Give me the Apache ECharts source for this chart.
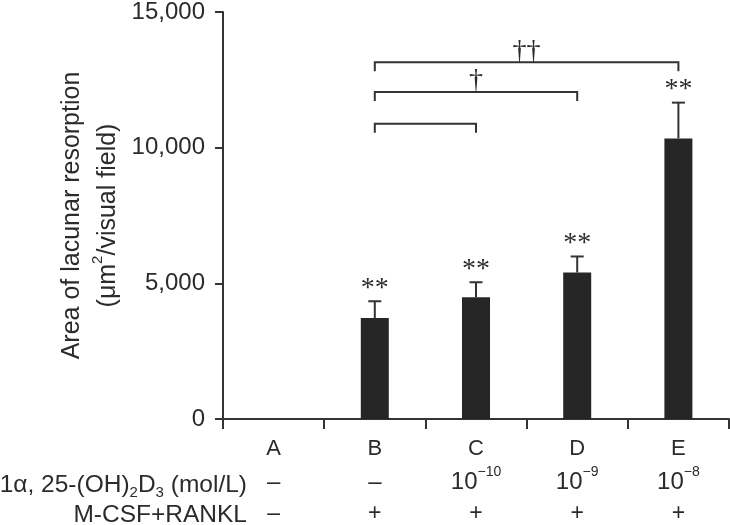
<!DOCTYPE html>
<html>
<head>
<meta charset="utf-8">
<script src="https://cdn.jsdelivr.net/npm/echarts@6/dist/echarts.min.js"></script>
<style>
html,body{margin:0;padding:0;background:#fff;}
#chart{width:730px;height:525px;}
</style>
</head>
<body>
<div id="chart"></div>
<script>
// ---- data ----
var categories = ['A', 'B', 'C', 'D', 'E'];
var doseBase = ['–', '–', '10', '10', '10'];
var doseExp = ['', '', '−10', '−9', '−8'];
var ranklRow = ['–', '+', '+', '+', '+'];
var meanArea = [0, 3720, 4490, 5400, 10340];
var errArea = [0, 620, 550, 590, 1320];
var starMarks = ['', '**', '**', '**', '**'];
var bracketFrom = ['B', 'B', 'B'];
var bracketTo = ['C', 'D', 'E'];
var bracketLevel = [10880, 12050, 13150];
var bracketMark = ['', '†', '††'];
var yMin = 0, yMax = 15000, yStep = 5000;

var TXT = '#2b2b2b', LINE = '#333333', BAR = '#262626';
var SANS = '"Liberation Sans", Arial, Helvetica, sans-serif';
var SERIF = '"Liberation Serif", "Times New Roman", serif';

var chart = echarts.init(document.getElementById('chart'), null, {renderer: 'canvas'});

var errData = categories.map(function (c, i) { return [i, meanArea[i], errArea[i]]; });
var brData = bracketFrom.map(function (f, i) {
  return [categories.indexOf(f), categories.indexOf(bracketTo[i]), bracketLevel[i]];
});

var option = {
  animation: false,
  backgroundColor: '#fff',
  grid: {left: 223, right: 1, top: 9.5, bottom: 105},
  xAxis: {
    type: 'category',
    data: categories,
    axisLine: {lineStyle: {color: LINE, width: 2}},
    axisTick: {show: true, interval: 0, length: 10, lineStyle: {color: LINE, width: 2}},
    axisLabel: {
      interval: 0,
      margin: 12.5,
      color: TXT,
      formatter: function (v, i) {
        var l2 = '{base|' + doseBase[i] + '}' + (doseExp[i] ? '{sup|' + doseExp[i] + '}' : '');
        return '{cat|' + v + '}\n' + l2 + '\n{pm|' + ranklRow[i] + '}';
      },
      rich: {
        cat: {fontFamily: SANS, fontSize: 22, lineHeight: 34, color: TXT, verticalAlign: 'middle'},
        base: {fontFamily: SANS, fontSize: 24, lineHeight: 34, color: TXT, verticalAlign: 'middle'},
        sup: {fontFamily: SANS, fontSize: 14, lineHeight: 14, color: TXT, verticalAlign: 'top'},
        pm: {fontFamily: SANS, fontSize: 23, lineHeight: 28, color: TXT, verticalAlign: 'middle'}
      }
    },
    splitLine: {show: false}
  },
  yAxis: {
    type: 'value',
    min: yMin, max: yMax, interval: yStep,
    name: '{a|Area of lacunar resorption}\n{a|(μm}{s|2}{a|/visual field)}',
    nameLocation: 'middle',
    nameRotate: 90,
    nameGap: 97,
    nameTextStyle: {
      color: TXT,
      rich: {
        a: {fontFamily: SANS, fontSize: 25, lineHeight: 36, color: TXT, verticalAlign: 'middle'},
        s: {fontFamily: SANS, fontSize: 15, lineHeight: 18, color: TXT, verticalAlign: 'top'}
      }
    },
    axisLine: {show: true, lineStyle: {color: LINE, width: 2}},
    axisTick: {show: true, length: 8, lineStyle: {color: LINE, width: 2}},
    axisLabel: {
      margin: 18,
      color: TXT,
      fontFamily: SANS,
      fontSize: 24,
      formatter: function (v) { return v.toLocaleString('en-US'); }
    },
    splitLine: {show: false}
  },
  graphic: [
    {
      type: 'text', x: 247, y: 485,
      style: {
        text: '{n|1α, 25-(OH)}{b|2}{n|D}{b|3}{n| (mol/L)}',
        align: 'right', verticalAlign: 'middle',
        rich: {
          n: {fontFamily: SANS, fontSize: 24.5, lineHeight: 30, fill: TXT, verticalAlign: 'middle'},
          b: {fontFamily: SANS, fontSize: 15, lineHeight: 15, fill: TXT, verticalAlign: 'bottom'}
        }
      }
    },
    {
      type: 'text', x: 247, y: 515,
      style: {
        text: 'M-CSF+RANKL', fill: TXT,
        font: '24.5px ' + SANS,
        align: 'right', verticalAlign: 'middle'
      }
    }
  ],
  series: [
    {
      type: 'bar',
      data: meanArea,
      barWidth: 28,
      itemStyle: {color: BAR},
      z: 2
    },
    {
      type: 'custom',
      data: errData,
      z: 3,
      renderItem: function (params, api) {
        var i = api.value(0), m = api.value(1), e = api.value(2);
        if (!e) return null;
        var p0 = api.coord([i, m]);
        var p1 = api.coord([i, m + e]);
        var cap = 6.5;
        return {
          type: 'group',
          children: [
            {type: 'line', shape: {x1: p0[0], y1: p0[1], x2: p1[0], y2: p1[1]}, style: {stroke: LINE, lineWidth: 2}},
            {type: 'line', shape: {x1: p1[0] - cap, y1: p1[1], x2: p1[0] + cap, y2: p1[1]}, style: {stroke: LINE, lineWidth: 2}},
            {type: 'text', x: p1[0], y: p1[1] - 13,
              style: {text: starMarks[params.dataIndex], font: '28px ' + SERIF, fill: TXT, align: 'center', verticalAlign: 'middle'}}
          ]
        };
      }
    },
    {
      type: 'custom',
      data: brData,
      z: 3,
      renderItem: function (params, api) {
        var a = api.value(0), b = api.value(1), lv = api.value(2);
        var pa = api.coord([a, lv]);
        var pb = api.coord([b, lv]);
        var drop = 9;
        var mark = bracketMark[params.dataIndex];
        var ch = [
          {type: 'polyline', shape: {points: [[pa[0], pa[1] + drop], [pa[0], pa[1]], [pb[0], pb[1]], [pb[0], pb[1] + drop]]},
            style: {stroke: LINE, lineWidth: 2, fill: null}}
        ];
        if (mark) {
          ch.push({type: 'text', x: (pa[0] + pb[0]) / 2, y: pa[1] + 3,
            style: {text: mark, font: '28px ' + SERIF, fill: TXT, align: 'center', verticalAlign: 'bottom'}});
        }
        return {type: 'group', children: ch};
      }
    }
  ]
};
chart.setOption(option);
</script>
</body>
</html>
